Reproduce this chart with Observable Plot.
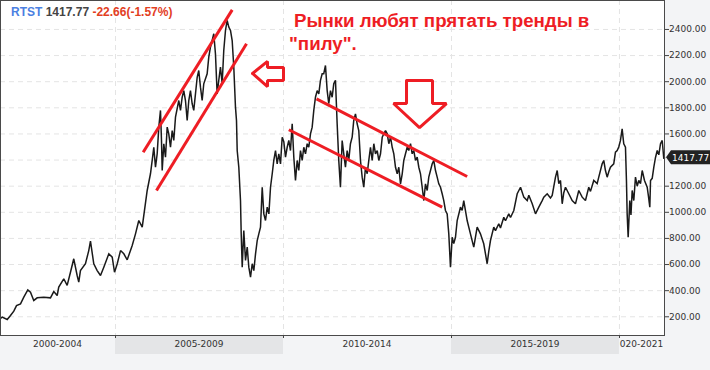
<!DOCTYPE html>
<html>
<head>
<meta charset="utf-8">
<script src="https://cdn.jsdelivr.net/npm/d3@7"></script>
<script src="https://cdn.jsdelivr.net/npm/@observablehq/plot@0.6"></script>
<style>
  html, body { margin: 0; padding: 0; background: #f3f4f6; }
  svg { display: block; }
</style>
</head>
<body>
<div id="chart"></div>
<script>
// ---- data: RTS index (time as decimal year) ----
const years = [2001.577,2001.628,2001.777,2001.875,2001.973,2002.054,2002.173,2002.271,2002.390,2002.470,2002.568,2002.670,2002.866,2003.065,2003.164,2003.265,2003.312,2003.461,2003.562,2003.661,2003.759,2003.860,2003.908,2003.958,2004.107,2004.205,2004.256,2004.354,2004.455,2004.554,2004.652,2004.801,2004.902,2004.970,2005.051,2005.149,2005.247,2005.348,2005.497,2005.595,2005.693,2005.795,
2005.943,2006.042,2006.092,2006.140,2006.190,2006.241,2006.289,2006.339,2006.369,2006.390,2006.438,2006.488,2006.539,2006.586,2006.637,2006.688,2006.735,2006.786,2006.884,2006.935,2006.985,2007.033,2007.083,2007.134,2007.182,2007.232,2007.283,2007.330,2007.381,2007.432,2007.479,2007.530,2007.580,2007.628,2007.729,2007.777,2007.827,2007.878,2007.926,2007.976,2008.027,2008.074,2008.125,2008.176,2008.223,2008.274,2008.324,2008.372,2008.423,2008.473,2008.521,2008.571,2008.601,2008.622,2008.670,2008.720,2008.741,2008.771,2008.818,2008.869,2008.920,2008.967,2009.018,2009.068,2009.116,2009.167,2009.217,2009.265,2009.315,2009.366,2009.414,2009.464,2009.515,2009.565,2009.613,2009.664,2009.711,2009.762,2009.812,2009.860,2009.911,2009.961,
2010.009,2010.060,2010.110,2010.158,2010.208,2010.259,2010.307,2010.357,2010.408,2010.455,2010.506,2010.557,2010.604,2010.655,2010.705,2010.753,2010.804,2010.854,2010.902,2010.952,2011.003,2011.051,2011.101,2011.152,2011.199,2011.250,2011.301,2011.348,2011.399,2011.449,2011.497,2011.548,2011.598,2011.646,2011.696,2011.747,2011.795,2011.845,2011.896,2011.943,2011.994,2012.045,2012.092,2012.143,2012.193,2012.241,2012.292,2012.342,2012.390,2012.440,2012.491,2012.539,2012.589,2012.640,2012.688,2012.738,2012.789,2012.836,2012.887,2012.938,2012.985,2013.036,2013.086,2013.134,2013.185,2013.235,2013.283,2013.333,2013.384,2013.432,2013.482,2013.533,2013.580,2013.631,2013.682,2013.729,2013.780,2013.830,2013.878,2013.929,2013.979,2014.027,2014.077,2014.128,2014.176,2014.226,2014.277,2014.324,2014.375,2014.426,2014.473,2014.524,2014.574,2014.622,2014.673,2014.723,2014.771,2014.821,2014.872,2014.920,2014.970,
2015.021,2015.068,2015.119,2015.170,2015.268,2015.318,2015.366,2015.467,2015.565,2015.664,2015.765,2015.863,2015.961,2016.063,2016.110,2016.161,2016.259,2016.310,2016.408,2016.458,2016.557,2016.607,2016.705,2016.756,2016.854,2016.955,2017.054,2017.152,2017.253,2017.301,2017.402,2017.500,2017.598,2017.699,2017.747,2017.848,2017.946,2017.997,2018.095,2018.146,2018.193,2018.244,2018.295,2018.342,2018.393,2018.491,2018.592,2018.690,2018.789,2018.890,2018.988,2019.086,2019.137,2019.235,2019.336,2019.384,2019.485,2019.533,2019.583,2019.634,2019.682,2019.732,2019.830,2019.881,2019.932,2019.979,2020.030,2020.080,2020.128,2020.179,2020.208,2020.229,2020.259,2020.307,2020.342,2020.378,2020.426,2020.476,2020.527,2020.574,2020.625,2020.676,2020.744,2020.824,2020.863,2020.902,2020.923,2020.973,2021.021,2021.071,2021.122,2021.170,2021.220,2021.271,2021.318,2021.339];
const values = [187,197,179,210,243,286,299,350,406,388,325,345,350,345,393,363,427,491,440,541,644,516,465,554,606,707,779,606,554,516,580,682,656,541,606,707,682,636,746,835,937,886,
1167,1297,1397,1498,1345,1448,1652,1780,1550,1320,1525,1422,1652,1601,1498,1626,1550,1728,1856,1780,1881,1932,1856,1703,1856,1932,1831,1780,1907,2034,2086,1958,1856,1984,2061,2188,2264,2315,2367,2214,1907,2009,2111,1984,2239,2392,2469,2418,2392,2315,2111,1805,1703,1473,1345,1090,835,580,861,631,733,580,503,606,554,682,784,835,886,1192,988,937,1039,988,1192,1295,1397,1473,1371,1448,1371,1575,
1540,1422,1498,1550,1473,1678,1422,1244,1397,1320,1473,1397,1498,1448,1525,1498,1601,1652,1780,1881,1932,1907,2010,2061,2061,2124,1932,1831,1932,1881,1984,2010,1678,1397,1192,1550,1448,1345,1473,1397,1525,1575,1703,1754,1678,1626,1397,1269,1192,1345,1295,1397,1498,1397,1525,1448,1473,1397,1448,1575,1601,1626,1601,1525,1575,1498,1448,1345,1295,1345,1218,1295,1397,1448,1498,1473,1525,1448,1473,1397,1422,1345,1295,1192,1090,1218,1167,1269,1320,1371,1397,1320,1269,1218,1192,1142,1090,1014,988,835,580,
809,760,809,937,1039,1014,1090,937,835,733,886,835,759,606,700,784,886,860,912,880,962,935,988,960,1014,1142,1192,1116,1090,1130,1065,988,1039,1090,1116,1142,1110,1129,1269,1320,1220,1244,1065,1150,1192,1142,1090,1065,1167,1116,1090,1192,1160,1244,1220,1269,1371,1397,1320,1269,1310,1345,1371,1460,1473,1500,1550,1639,1525,1498,1244,988,809,1090,980,1167,1090,1269,1200,1244,1220,1320,1244,1192,1120,1039,1244,1260,1345,1420,1473,1440,1525,1550,1410,1417.77];

const ticker = "RTST";
const change = "-22.66(-1.57%)";

const yTicks = [200,400,600,800,1000,1200,1400,1600,1800,2000,2200,2400];
const xDomainYears = [2001.577, 2021.339];
const yDomain = [56.7, 2621.7];

const periodLabels = ["2000-2004","2005-2009","2010-2014","2015-2019","020-2021"];
const periodStarts = [2000,2005,2010,2015,2020];
const periodEnds   = [2005,2010,2015,2020,2025];
const periodShaded = [false,true,false,true,false];

// annotation channels (trend lines)
const channelStart = [2005.824,2006.220,2010.982,2010.158];
const channelStartValue = [1460,1167,1869,1632];
const channelEnd = [2008.473,2008.899,2015.467,2014.723];
const channelEndValue = [2550,2290,1274,1039];

// annotation arrows (outline vertices)
const leftArrowYears = [2009.077,2009.524,2009.524,2010.0,2010.0,2009.524,2009.524,2009.077];
const leftArrowValues = [2063,2155,2109,2109,2009,2009,1963,2063];
const downArrowYears = [2013.661,2014.435,2014.435,2014.851,2014.048,2013.274,2013.661,2013.661];
const downArrowValues = [2009,2009,1833,1833,1649,1833,1833,2009];

const titleLines = ["Рынки любят прятать тренды в", "\"пилу\"."];

// ---- build tables ----
const Y = t => {
  const y = Math.floor(t);
  const a = Date.UTC(y, 0, 1), b = Date.UTC(y + 1, 0, 1);
  return new Date(a + (t - y) * (b - a));
};
const series = years.map((t, i) => ({date: Y(t), value: values[i]}));
const last = series[series.length - 1];
const channels = channelStart.map((t, i) => ({x1: Y(t), y1: channelStartValue[i], x2: Y(channelEnd[i]), y2: channelEndValue[i]}));
const arrows = [
  ...leftArrowYears.map((t, i) => ({id: "left", date: Y(t), value: leftArrowValues[i]})),
  ...downArrowYears.map((t, i) => ({id: "down", date: Y(t), value: downArrowValues[i]}))
];
const boundaries = periodStarts.slice(1).map(Y);

const RED = "#ee1d24";
const GRID = "#e4e4e4";
const W = 710, H = 370, MR = 46, MB = 35;

// tick labels hidden under the last-value marker (as in the reference)
const pxPerUnit = (H - MB) / (yDomain[1] - yDomain[0]);
const labelTicks = yTicks.filter(v => Math.abs(v - last.value) * pxPerUnit > 10);

const plot = Plot.plot({
  width: W, height: H,
  marginLeft: 0, marginRight: MR, marginTop: 0, marginBottom: MB,
  style: {background: "transparent", fontFamily: "DejaVu Sans", fontSize: "9px", color: "#333"},
  x: {type: "utc", domain: xDomainYears.map(Y), axis: null},
  y: {domain: yDomain, axis: null},
  marks: [
    Plot.frame({fill: "white", stroke: null}),
    Plot.ruleY(yTicks, {stroke: GRID, strokeDasharray: "5,4"}),
    Plot.ruleX(boundaries, {stroke: GRID, strokeDasharray: "5,4"}),
    Plot.line(series, {x: "date", y: "value", stroke: "#1a1a1a", strokeWidth: 1.5, strokeLinejoin: "miter", strokeMiterlimit: 2}),
    Plot.link(channels, {x1: "x1", y1: "y1", x2: "x2", y2: "y2", stroke: RED, strokeWidth: 3}),
    Plot.line(arrows, {x: "date", y: "value", z: "id", stroke: RED, strokeWidth: 3, fill: "white", strokeLinejoin: "miter"}),
    Plot.axisY(labelTicks, {anchor: "right", tickSize: 4, tickPadding: 0.5, tickFormat: d => d.toFixed(2), fill: "#333", stroke: "#444", textAnchor: "start", fontSize: 9, label: null}),
    Plot.frame({stroke: "#4a4a4a", strokeWidth: 1})
  ]
});

document.getElementById("chart").appendChild(plot);

// ---- extras placed with the plot's own scales ----
const svg = d3.select(plot);
const xs = plot.scale("x"), ys = plot.scale("y");
const bottom = H - MB;
const d0 = Y(xDomainYears[0]), d1 = Y(xDomainYears[1]);

const bandG = svg.insert("g", ":first-child");
periodLabels.forEach((lab, i) => {
  const a = new Date(Math.max(Y(periodStarts[i]), d0));
  const b = new Date(Math.min(Y(periodEnds[i]), d1));
  const xa = xs.apply(a), xb = xs.apply(b);
  if (periodShaded[i]) {
    bandG.append("rect").attr("x", xa).attr("y", bottom).attr("width", xb - xa).attr("height", 19).attr("fill", "#e4e5e7");
  }
  svg.append("text").attr("x", (xa + xb) / 2).attr("y", bottom + 12)
    .attr("text-anchor", "middle").attr("fill", "#333")
    .style("font", "9px 'DejaVu Sans'").text(lab);
});
boundaries.forEach(b => {
  const x = Math.round(xs.apply(b)) + 0.5;
  svg.append("line").attr("x1", x).attr("x2", x).attr("y1", bottom).attr("y2", bottom + 3).attr("stroke", "#444");
});

// header
const hdr = svg.append("text").attr("x", 11).attr("y", 16).attr("text-anchor", "start")
  .style("font", "bold 12px 'Liberation Sans', Arial, sans-serif");
hdr.append("tspan").attr("fill", "#4b80e2").text(ticker + " ");
hdr.append("tspan").attr("fill", "#444").text(last.value.toFixed(2) + " ");
hdr.append("tspan").attr("fill", "#e2401f").text(change);

// annotation title
const tt = svg.append("text").attr("text-anchor", "start")
  .style("font", "bold 18.7px 'Liberation Sans', Arial, sans-serif").attr("fill", RED);
tt.append("tspan").attr("x", 294).attr("y", 27).text(titleLines[0]);
tt.append("tspan").attr("x", 289).attr("y", 50).text(titleLines[1]);

// last value marker
const ly = ys.apply(last.value);
const lx = W - MR + 2;
svg.append("path")
  .attr("d", `M${lx},${ly} L${lx + 5},${ly - 7} L${W},${ly - 7} L${W},${ly + 7} L${lx + 5},${ly + 7} Z`)
  .attr("fill", "#222");
svg.append("text").attr("x", lx + 6).attr("y", ly + 3.3).attr("fill", "white").attr("text-anchor", "start")
  .style("font", "9px 'DejaVu Sans'").text(last.value.toFixed(2));
</script>
</body>
</html>
